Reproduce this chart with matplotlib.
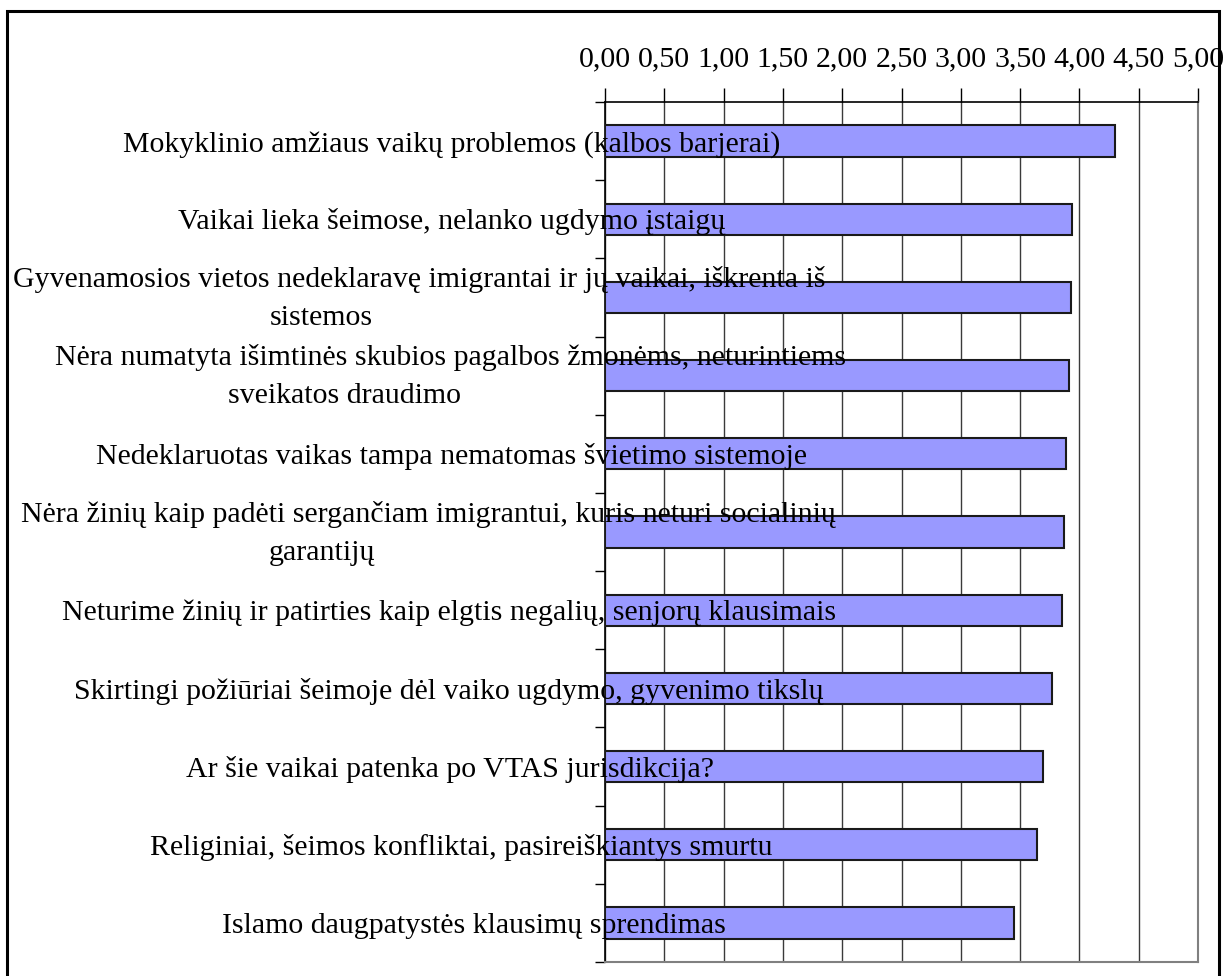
import matplotlib
matplotlib.use('Agg')
import matplotlib.pyplot as plt
from matplotlib.patches import Rectangle
from matplotlib.transforms import blended_transform_factory

categories = [
    "Mokyklinio amžiaus vaikų problemos (kalbos barjerai)",
    "Vaikai lieka šeimose, nelanko ugdymo įstaigų",
    "Gyvenamosios vietos nedeklaravę imigrantai ir jų vaikai, iškrenta iš\nsistemos",
    "Nėra numatyta išimtinės skubios pagalbos žmonėms, neturintiems\nsveikatos draudimo",
    "Nedeklaruotas vaikas tampa nematomas švietimo sistemoje",
    "Nėra žinių kaip padėti sergančiam imigrantui, kuris neturi socialinių\ngarantijų",
    "Neturime žinių ir patirties kaip elgtis negalių, senjorų klausimais",
    "Skirtingi požiūriai šeimoje dėl vaiko ugdymo, gyvenimo tikslų",
    "Ar šie vaikai patenka po VTAS jurisdikcija?",
    "Religiniai, šeimos konfliktai, pasireiškiantys smurtu",
    "Islamo daugpatystės klausimų sprendimas",
]
values = [4.30, 3.94, 3.93, 3.91, 3.89, 3.87, 3.85, 3.77, 3.69, 3.64, 3.45]
xticks = [0.0, 0.5, 1.0, 1.5, 2.0, 2.5, 3.0, 3.5, 4.0, 4.5, 5.0]
xtick_labels = ["0,00", "0,50", "1,00", "1,50", "2,00", "2,50",
                "3,00", "3,50", "4,00", "4,50", "5,00"]

# layout: horizontal centre (pixels) of each label line
line_centres = [[452], [452], [419, 321], [451, 344], [451], [428, 322],
                [449], [449], [450], [461], [474]]

W, H = 1231, 976
FONT = 'Liberation Serif'
FS = 21.5

fig = plt.figure(figsize=(W / 100, H / 100), dpi=100)
ax = fig.add_axes([605 / W, 1 - 962 / H, (1198 - 605) / W, (962 - 102) / H])

n = len(categories)
ypos = list(range(n))
ax.barh(ypos, values, height=0.40, color='#9999FF', edgecolor='#1a1a1a',
        linewidth=1.5, zorder=3)

ax.set_xlim(0, 5)
ax.set_ylim(n - 0.5, -0.5)

ax.xaxis.tick_top()
ax.set_xticks(xticks)
ax.set_xticklabels(xtick_labels, fontsize=FS, family=FONT)
ax.tick_params(axis='x', direction='out', length=10, width=1, pad=11.5,
               colors='black')
ax.set_yticks([i - 0.5 for i in range(n + 1)])
ax.set_yticklabels([])
ax.tick_params(axis='y', direction='out', length=7, width=1)

ax.xaxis.grid(True, color='#3a3a3a', linewidth=1)
ax.set_axisbelow(True)

for s in ['top', 'left']:
    ax.spines[s].set_color('black')
    ax.spines[s].set_linewidth(1.2)
for s in ['right', 'bottom']:
    ax.spines[s].set_color('#808080')
    ax.spines[s].set_linewidth(1.5)

trans = blended_transform_factory(fig.transFigure, ax.transData)
for i, (lab, centres) in enumerate(zip(categories, line_centres)):
    lines = lab.split('\n')
    if len(lines) == 1:
        offs = [0.13]
    else:
        offs = [-0.134, 0.352]
    for line, cx, off in zip(lines, centres, offs):
        ax.text(cx / W, i + off, line, transform=trans, ha='center',
                va='baseline', fontsize=FS, family=FONT, color='black',
                zorder=5, clip_on=False)

fig.add_artist(Rectangle((6.7 / W, -0.1), (1219 - 6.7) / W, 1.1 - 11 / H,
                         transform=fig.transFigure, fill=False,
                         edgecolor='black', linewidth=2.2))

fig.savefig('out.png', dpi=100)
